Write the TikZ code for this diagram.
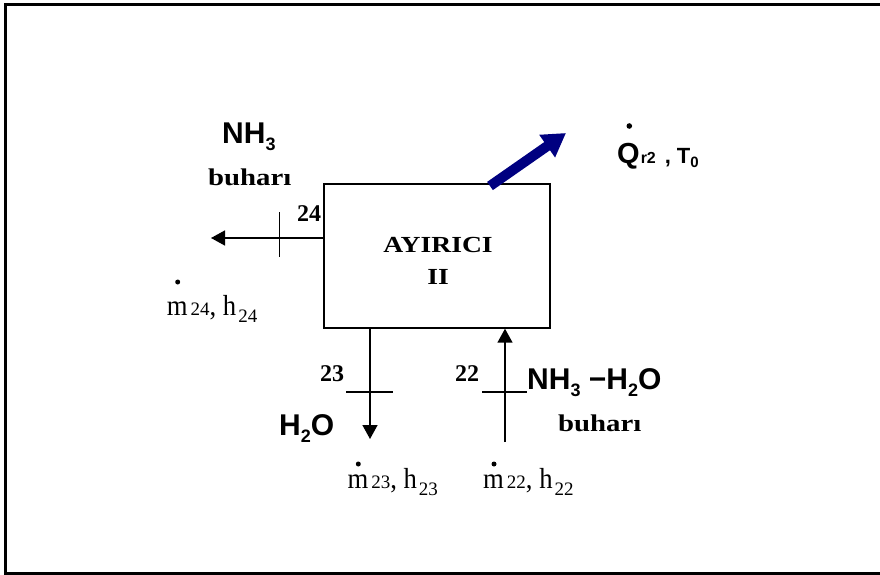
\documentclass[tikz,border=0pt]{standalone}
\usepackage{fontspec}
\setmainfont{Liberation Serif}
\setsansfont{Liberation Sans}
\newfontfamily\wideserif[FakeStretch=1.2]{Liberation Serif}
\newfontfamily\narrowserif[FakeStretch=0.92]{Liberation Serif}
\usetikzlibrary{arrows.meta}
\definecolor{heatblue}{RGB}{0,0,128}
\newcommand{\ssub}[1]{\raisebox{-7pt}{\fontsize{18}{18}\selectfont #1}}
\newcommand{\mh}[1]{m\kern3pt{\fontsize{19}{19}\selectfont\rmfamily #1}, h\kern2pt\raisebox{-7pt}{\fontsize{19}{19}\selectfont\rmfamily #1}}

\begin{document}
\begin{tikzpicture}[x=1pt,y=-1pt,
  every node/.style={inner sep=0pt,anchor=base west},
  chem/.style={font=\fontsize{30}{30}\selectfont\sffamily\bfseries},
  tag/.style={font=\fontsize{24}{24}\selectfont\bfseries},
  word/.style={font=\fontsize{24}{24}\selectfont\wideserif\bfseries},
  unit/.style={font=\fontsize{23}{23}\selectfont\wideserif\bfseries},
  flow/.style={font=\fontsize{29}{29}\selectfont\narrowserif},
  stream/.style={line width=1.5pt,-{Triangle[length=14pt,width=15pt]}},
  crossbar/.style={line width=1.3pt}]
\useasboundingbox (0,0) rectangle (880,575);
\draw[line width=2.5pt] (884,4.7) -- (5.3,4.7) -- (5.3,573.3) -- (884,573.3);

\node[draw,line width=1.4pt,minimum width=226pt,minimum height=144pt,anchor=center] (ayirici) at (437,256) {};
\node[unit,anchor=base] (ay1) at (438,252) {AYIRICI};
\node[unit,anchor=base] (ay2) at (438,284) {II};

\coordinate (out24) at (211,238);
\draw[stream] (ayirici.west |- out24) -- (out24);
\draw[crossbar] (279.5,212) -- (279.5,257);
\node[tag] (n24) at (297,221.7) {24};
\node[chem] (nh3) at (222,143) {NH\ssub{3}};
\node[word] (buhar1) at (208,185) {buharı};
\node[flow] (m24) at (166.7,315) {\mh{24}};
\fill ([xshift=11pt,yshift=33pt]m24.base west) circle (2.5);

\coordinate (out23) at (370,439);
\draw[stream] (out23 |- ayirici.south) -- (out23);
\draw[crossbar] (346,392) -- (393,392);
\node[tag] (n23) at (320,381) {23};
\node[chem] (h2o) at (279,435) {H\ssub{2}O};
\node[flow] (m23) at (347.3,488.5) {\mh{23}};
\fill ([xshift=11pt,yshift=24.5pt]m23.base west) circle (2.5);

\coordinate (in22) at (505,442);
\draw[stream] (in22) -- (in22 |- ayirici.south);
\draw[crossbar] (482,392) -- (527,392);
\node[tag] (n22) at (455,381) {22};
\node[chem] (mix) at (527,389) {NH\ssub{3} −H\ssub{2}O};
\node[word] (buhar2) at (558,431) {buharı};
\node[flow] (m22) at (483,488.5) {\mh{22}};
\fill ([xshift=11pt,yshift=24.5pt]m22.base west) circle (2.5);

\coordinate (qtail) at (490,186);
\coordinate (qtip) at (566,133);
\draw[heatblue,line width=10pt,-{Triangle[length=23pt,width=26pt]}] (qtail) -- (qtip);
\node (qr2) at (617,163.3) {\sffamily\bfseries{\fontsize{29}{29}\selectfont Q}\kern1pt{\fontsize{16}{16}\selectfont r2}\kern9pt{\fontsize{22}{22}\selectfont ,\kern6pt T}\raisebox{-4pt}{\fontsize{15}{15}\selectfont 0}};
\fill ([xshift=12.3pt,yshift=37.3pt]qr2.base west) circle (2.8);
\end{tikzpicture}
\end{document}
